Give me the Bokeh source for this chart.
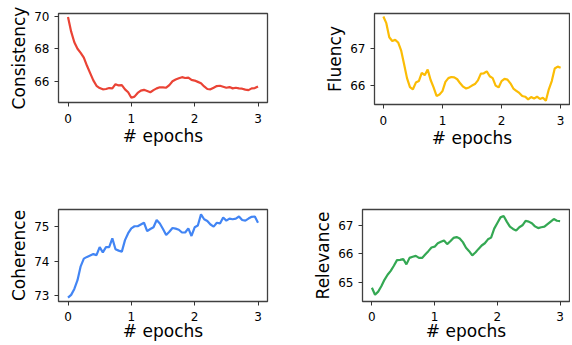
from bokeh.plotting import figure
from bokeh.layouts import column, row
from bokeh.models import FixedTicker, Range1d
from bokeh.embed import file_html
from bokeh.resources import INLINE

epochs = [0.0, 0.05, 0.1, 0.15, 0.2, 0.25, 0.3, 0.35, 0.4, 0.45,
          0.5, 0.55, 0.6, 0.65, 0.7, 0.75, 0.8, 0.85, 0.9, 0.95,
          1.0, 1.05, 1.1, 1.15, 1.2, 1.25, 1.3, 1.35, 1.4, 1.45,
          1.5, 1.55, 1.6, 1.65, 1.7, 1.75, 1.8, 1.85, 1.9, 1.95,
          2.0, 2.05, 2.1, 2.15, 2.2, 2.25, 2.3, 2.35, 2.4, 2.45,
          2.5, 2.55, 2.6, 2.65, 2.7, 2.75, 2.8, 2.85, 2.9, 2.95, 3.0]

consistency = [69.95, 69.05, 68.4, 68.0, 67.75, 67.45, 66.95, 66.5, 66.05, 65.72,
               65.58, 65.5, 65.52, 65.58, 65.56, 65.82, 65.74, 65.76, 65.5, 65.32,
               64.98, 65.05, 65.28, 65.42, 65.47, 65.4, 65.32, 65.45, 65.56, 65.63,
               65.62, 65.6, 65.76, 66.0, 66.1, 66.18, 66.25, 66.2, 66.22, 66.08,
               66.04, 65.96, 65.88, 65.68, 65.52, 65.5, 65.6, 65.7, 65.72, 65.66,
               65.6, 65.64, 65.56, 65.6, 65.56, 65.54, 65.48, 65.45, 65.56, 65.58, 65.68]

fluency = [67.86, 67.68, 67.3, 67.2, 67.23, 67.16, 66.95, 66.58, 66.2, 65.96,
           65.9, 66.08, 66.12, 66.34, 66.28, 66.43, 66.15, 65.95, 65.72, 65.76,
           65.85, 66.1, 66.2, 66.23, 66.22, 66.17, 66.06, 65.97, 65.92, 65.95,
           66.0, 66.04, 66.14, 66.32, 66.33, 66.38, 66.25, 66.2, 66.0, 65.95,
           66.12, 66.18, 66.16, 66.06, 65.92, 65.86, 65.8, 65.72, 65.7, 65.63,
           65.69, 65.65, 65.7, 65.64, 65.67, 65.59, 65.9, 66.12, 66.46, 66.51, 66.48]

coherence = [72.95, 73.03, 73.2, 73.45, 73.85, 74.07, 74.12, 74.16, 74.2, 74.17,
             74.4, 74.25, 74.4, 74.4, 74.65, 74.34, 74.3, 74.27, 74.6, 74.8,
             74.94, 75.0, 75.0, 75.05, 75.1, 74.86, 74.92, 74.97, 75.18, 75.08,
             74.92, 74.75, 74.84, 74.95, 74.93, 74.9, 74.82, 74.82, 74.94, 74.72,
             74.97, 75.02, 75.34, 75.2, 75.15, 75.05, 74.99, 75.1, 75.08, 75.25,
             75.16, 75.22, 75.2, 75.22, 75.28, 75.18, 75.16, 75.22, 75.27, 75.28, 75.1]

relevance = [64.8, 64.55, 64.66, 64.85, 65.08, 65.26, 65.4, 65.58, 65.78, 65.79,
             65.82, 65.63, 65.86, 65.9, 65.93, 65.86, 65.86, 65.98, 66.1, 66.23,
             66.26, 66.38, 66.43, 66.48, 66.35, 66.45, 66.57, 66.6, 66.55, 66.42,
             66.22, 66.1, 65.95, 66.05, 66.18, 66.3, 66.38, 66.52, 66.58, 66.9,
             67.1, 67.3, 67.35, 67.15, 66.97, 66.89, 66.83, 66.95, 67.02, 67.18,
             67.15, 67.09, 66.98, 66.92, 66.95, 66.97, 67.06, 67.15, 67.24, 67.18, 67.17]

x_ticks = [0, 1, 2, 3]
x_label = "# epochs"
names = ["Consistency", "Fluency", "Coherence", "Relevance"]
y_ticks = [[66, 68, 70], [66, 67], [73, 74, 75], [65, 66, 67]]
colors = ["#EA4335", "#FBBC05", "#4285F4", "#34A853"]

FONT = "DejaVu Sans"


def make(name, ys, color, yr, yticks, fw, fh, bl, br, bt, bb, xls, xas):
    p = figure(frame_width=fw, frame_height=fh,
               min_border_left=bl, min_border_right=br,
               min_border_top=bt, min_border_bottom=bb,
               x_range=Range1d(-0.15, 3.15), y_range=Range1d(*yr),
               output_backend="svg", toolbar_location=None)
    p.line(epochs, ys, line_color=color, line_width=2.2)
    p.xaxis.ticker = FixedTicker(ticks=x_ticks)
    p.yaxis.ticker = FixedTicker(ticks=yticks)
    p.xaxis.axis_label = x_label
    p.yaxis.axis_label = name
    for ax in p.axis:
        ax.axis_label_text_font = FONT
        ax.axis_label_text_font_size = "17px"
        ax.axis_label_text_font_style = "normal"
        ax.axis_label_text_color = "#000000"
        ax.axis_label_text_line_height = 1.0
        ax.major_label_text_font = FONT
        ax.major_label_text_font_size = "12px"
        ax.major_label_text_color = "#000000"
        ax.major_label_text_line_height = 1.0
        ax.major_tick_out = 4
        ax.major_tick_in = 0
        ax.minor_tick_out = 0
        ax.minor_tick_in = 0
        ax.major_tick_line_color = "#333333"
        ax.major_tick_line_width = 1
        ax.axis_line_color = None
    p.xaxis.major_label_standoff = xls
    p.xaxis.axis_label_standoff = xas
    p.yaxis.major_label_standoff = 5
    p.yaxis.axis_label_standoff = 2
    p.grid.visible = False
    p.outline_line_color = "#404040"
    p.outline_line_width = 1.3
    p.background_fill_color = "white"
    p.border_fill_color = "white"
    return p


pA = make(names[0], consistency, colors[0], (64.69, 70.17), y_ticks[0], 209, 89, 58, 10, 13, 46, 7, 0)
pB = make(names[1], fluency, colors[1], (65.49, 67.94), y_ticks[1], 195, 91, 97, 1, 11, 46, 7, 0)
pC = make(names[2], coherence, colors[2], (72.84, 75.48), y_ticks[2], 209, 92, 58, 10, 61, 38, 6, -3)
pD = make(names[3], relevance, colors[3], (64.31, 67.58), y_ticks[3], 207, 92, 85, 1, 61, 38, 6, -3)

layout = column(row(pA, pB), row(pC, pD))

open("out.html", "w").write(file_html(layout, INLINE))
